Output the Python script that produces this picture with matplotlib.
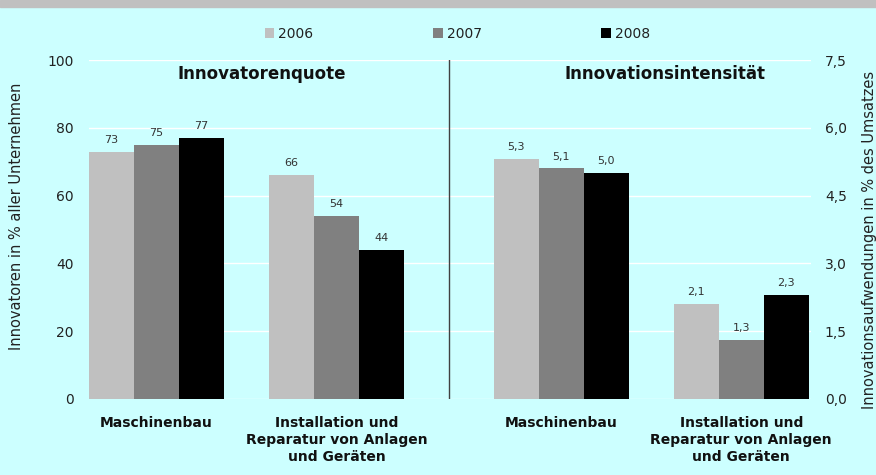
import matplotlib
matplotlib.use("Agg")
import matplotlib.pyplot as plt
from matplotlib.patches import Patch
from matplotlib.ticker import FuncFormatter
from matplotlib.transforms import blended_transform_factory

years = ["2006", "2007", "2008"]
categories = ["Maschinenbau", "Installation und\nReparatur von Anlagen\nund Geräten",
              "Maschinenbau", "Installation und\nReparatur von Anlagen\nund Geräten"]
quote_maschinenbau = [73, 75, 77]
quote_installation = [66, 54, 44]
intens_maschinenbau = [5.3, 5.1, 5.0]
intens_installation = [2.1, 1.3, 2.3]
left_ticks = [0, 20, 40, 60, 80, 100]
right_ticks = [0.0, 1.5, 3.0, 4.5, 6.0, 7.5]
colors = ["#C0C0C0", "#808080", "#000000"]
bg = "#CCFFFF"

plt.rcParams["font.family"] = ["DejaVu Sans"]

fig = plt.figure(figsize=(8.76, 4.75), dpi=100, facecolor=bg)
fig.patches.append(plt.Rectangle((0, 1 - 7 / 475), 1, 7 / 475, transform=fig.transFigure,
                                 color="#C0C0C0", zorder=0))

ax = fig.add_axes([89 / 876, 1 - 399 / 475, 722 / 876, 339 / 475])
ax.set_facecolor(bg)
ax.set_xlim(-0.5, 15.55)
ax.set_ylim(0, 100)
ax.set_axisbelow(True)
ax.yaxis.grid(True, color="white", lw=1)
for s in ax.spines.values():
    s.set_visible(False)

tw = ax.twinx()
tw.set_ylim(0, 7.5)
for s in tw.spines.values():
    s.set_visible(False)

centers = [1, 5, 10, 14]
for i, (c, col) in enumerate(zip(years, colors)):
    b1 = ax.bar([centers[0] - 1 + i], [quote_maschinenbau[i]], width=1.0, color=col, zorder=3)
    b2 = ax.bar([centers[1] - 1 + i], [quote_installation[i]], width=1.0, color=col, zorder=3)
    ax.bar_label(b1, labels=[f"{quote_maschinenbau[i]:d}"], padding=5, fontsize=8, color="#333333")
    ax.bar_label(b2, labels=[f"{quote_installation[i]:d}"], padding=5, fontsize=8, color="#333333")
    b3 = tw.bar([centers[2] - 1 + i], [intens_maschinenbau[i]], width=1.0, color=col, zorder=3)
    b4 = tw.bar([centers[3] - 1 + i], [intens_installation[i]], width=1.0, color=col, zorder=3)
    tw.bar_label(b3, labels=[f"{intens_maschinenbau[i]:.1f}".replace(".", ",")], padding=5,
                 fontsize=8, color="#333333")
    tw.bar_label(b4, labels=[f"{intens_installation[i]:.1f}".replace(".", ",")], padding=5,
                 fontsize=8, color="#333333")

ax.axvline(7.5, color="#404040", lw=1, zorder=4)

ax.set_yticks(left_ticks)
ax.set_yticklabels([str(t) for t in left_ticks], fontsize=10, color="#222222")
ax.tick_params(axis="y", length=0, pad=11)
tw.set_yticks(right_ticks)
tw.yaxis.set_major_formatter(FuncFormatter(lambda v, p: f"{v:.1f}".replace(".", ",")))
tw.tick_params(axis="y", length=0, pad=10, labelsize=10, labelcolor="#222222")

ax.set_xticks(centers)
ax.set_xticklabels(categories, fontsize=10, fontweight="bold", linespacing=1.3, color="#111111")
ax.tick_params(axis="x", length=0, pad=12)

ax.set_ylabel("Innovatoren in % aller Unternehmen", fontsize=10.5, color="#222222")
ax.yaxis.set_label_coords(-(89 - 24) / 722, (399 - 216) / 339)
tw.set_ylabel("Innovationsaufwendungen in % des Umsatzes", fontsize=10.5, color="#222222",
              rotation=90)
tw.yaxis.set_label_coords((862 - 89) / 722, (399 - 240) / 339)

tr = blended_transform_factory(ax.transData, ax.transAxes)
ax.text(3.34, 0.959, "Innovatorenquote", transform=tr, ha="center", va="center",
        fontsize=12, fontweight="bold", color="#111111")
ax.text(12.3, 0.959, "Innovationsintensität", transform=tr, ha="center", va="center",
        fontsize=12, fontweight="bold", color="#111111")

handles = [Patch(facecolor=c, edgecolor="none") for c in colors]
fig.legend(handles, years, loc="center", bbox_to_anchor=(457.5 / 876, 1 - 34 / 475), ncol=3,
           frameon=False, fontsize=10, handlelength=0.7, handleheight=0.7,
           handletextpad=0.3, columnspacing=8.6, labelcolor="#222222")

fig.savefig("out.png", dpi=100, facecolor=bg)
